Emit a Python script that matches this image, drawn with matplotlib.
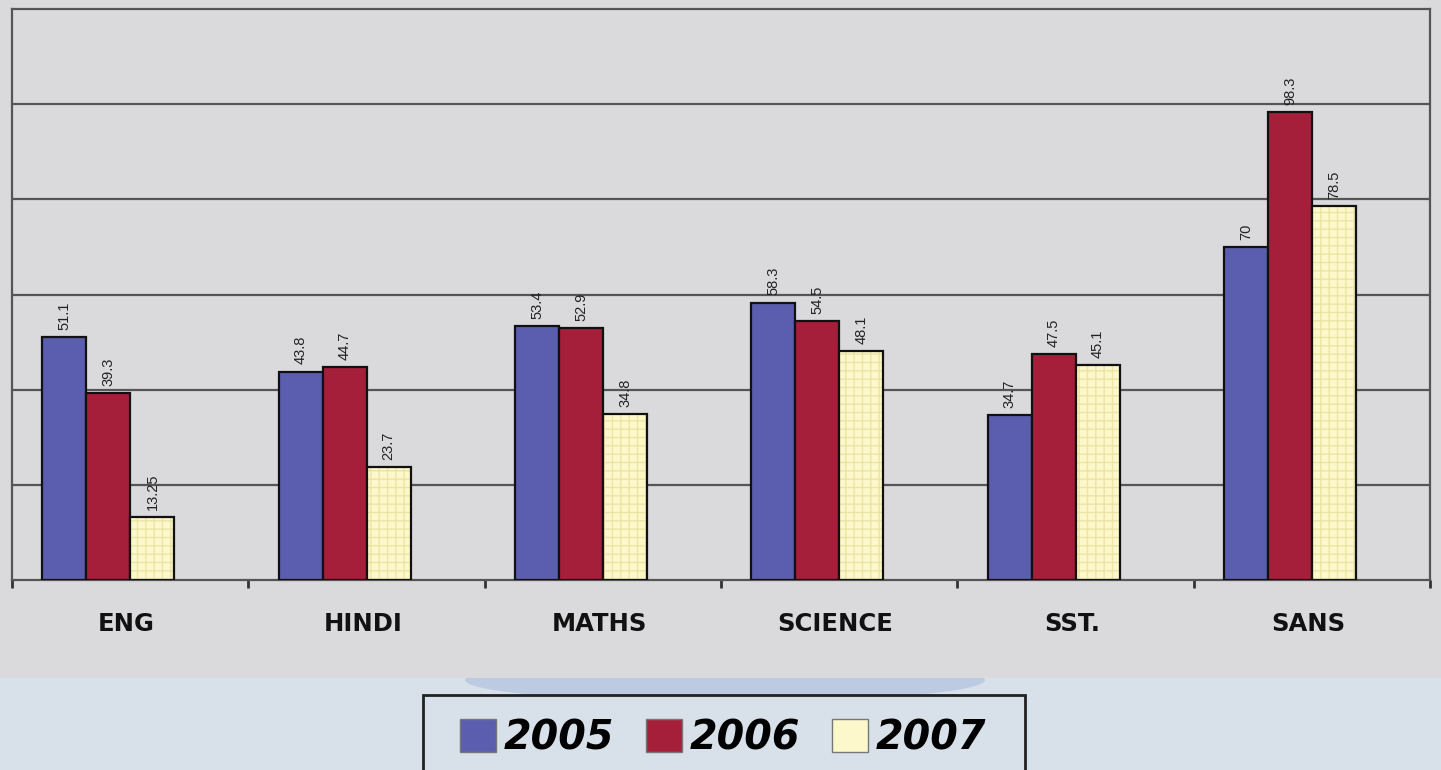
import matplotlib.pyplot as plt
import numpy as np
from matplotlib.patches import Rectangle, Patch, Ellipse

# data
subjects = ["ENG", "HINDI", "MATHS", "SCIENCE", "SST.", "SANS"]
years = ["2005", "2006", "2007"]
v2005 = [51.1, 43.8, 53.4, 58.3, 34.7, 70]
v2006 = [39.3, 44.7, 52.9, 54.5, 47.5, 98.3]
v2007 = [13.25, 23.7, 34.8, 48.1, 45.1, 78.5]
labels2005 = ["51.1", "43.8", "53.4", "58.3", "34.7", "70"]
labels2006 = ["39.3", "44.7", "52.9", "54.5", "47.5", "98.3"]
labels2007 = ["13.25", "23.7", "34.8", "48.1", "45.1", "78.5"]

colors = ["#5b5eae", "#a51f3b", "#fcf8cc"]
bg_gray = "#dadadd"
bg_blue = "#d8e1ea"

W, H = 1441, 770
fig = plt.figure(figsize=(W / 100, H / 100), dpi=100)
fig.patch.set_facecolor(bg_blue)

# blue glow under the gray panel, then the gray panel, then the legend box
fig.patches.append(Ellipse((725 / W, 1 - 680 / H), 520 / W, 44 / H, transform=fig.transFigure,
                           facecolor="#bccbe2", edgecolor="none", zorder=0.1))
fig.patches.append(Rectangle((0, 1 - 678 / H), 1, 678 / H, transform=fig.transFigure,
                             facecolor=bg_gray, edgecolor="none", zorder=0.2))
fig.patches.append(Rectangle((423 / W, -0.02), (1025 - 423) / W, 1 - 695 / H + 0.02,
                             transform=fig.transFigure, facecolor=bg_blue,
                             edgecolor="#222222", linewidth=2, zorder=0.3))

ax = fig.add_axes([12 / W, 1 - 580 / H, (1430 - 12) / W, (580 - 9) / H])
ax.set_zorder(2)
ax.set_facecolor(bg_gray)

x = np.arange(len(subjects))
w = 0.186
shift = -0.092

series = [v2005, v2006, v2007]
texts = [labels2005, labels2006, labels2007]
for k in range(3):
    pos = x + shift + (k - 1) * w
    if k == 2:
        # faint check pattern on the pale bars
        ax.bar(pos, series[k], w, color=colors[k], edgecolor="#ece4a4", hatch="++",
               linewidth=0, zorder=3)
        ax.bar(pos, series[k], w, fill=False, edgecolor="#111111", linewidth=1.6, zorder=4)
    else:
        ax.bar(pos, series[k], w, color=colors[k], edgecolor="#111111", linewidth=1.6, zorder=3)
    for xi, yi, t in zip(pos, series[k], texts[k]):
        ax.text(xi, yi + 1.5, t, rotation=90, ha="center", va="bottom",
                fontsize=10.5, color="#222222", family="Liberation Sans")

ax.set_xlim(-0.5, 5.5)
ax.set_ylim(0, 120)
ax.set_yticks([20, 40, 60, 80, 100])
ax.yaxis.grid(True, color="#555555", linewidth=1.6)
ax.set_axisbelow(True)
ax.tick_params(axis="y", left=False, labelleft=False)

# category boundaries as ticks, names in the middle
ax.set_xticks(np.arange(-0.5, 6, 1))
ax.set_xticklabels([])
ax.tick_params(axis="x", direction="out", length=6, width=2, color="#333333")
for xi, s in zip(x, subjects):
    ax.text(xi - 0.015, -9.2, s, ha="center", va="center", fontsize=17.5, fontweight="bold",
            family="DejaVu Sans", color="#111111")

for sp in ax.spines.values():
    sp.set_color("#555555")
    sp.set_linewidth(1.6)

handles = [Patch(facecolor=c, edgecolor="#777777", linewidth=1) for c in colors]
leg = fig.legend(handles, years, loc="center", bbox_to_anchor=(723 / W, 1 - 738 / H),
                 ncol=3, frameon=False, handlelength=0.91, handleheight=0.91,
                 handletextpad=0.2, columnspacing=0.8, borderpad=0,
                 prop={"family": "DejaVu Sans", "weight": "bold", "style": "italic", "size": 28.5})
leg.set_zorder(3)

plt.savefig("out.png", dpi=100, facecolor=fig.get_facecolor())
